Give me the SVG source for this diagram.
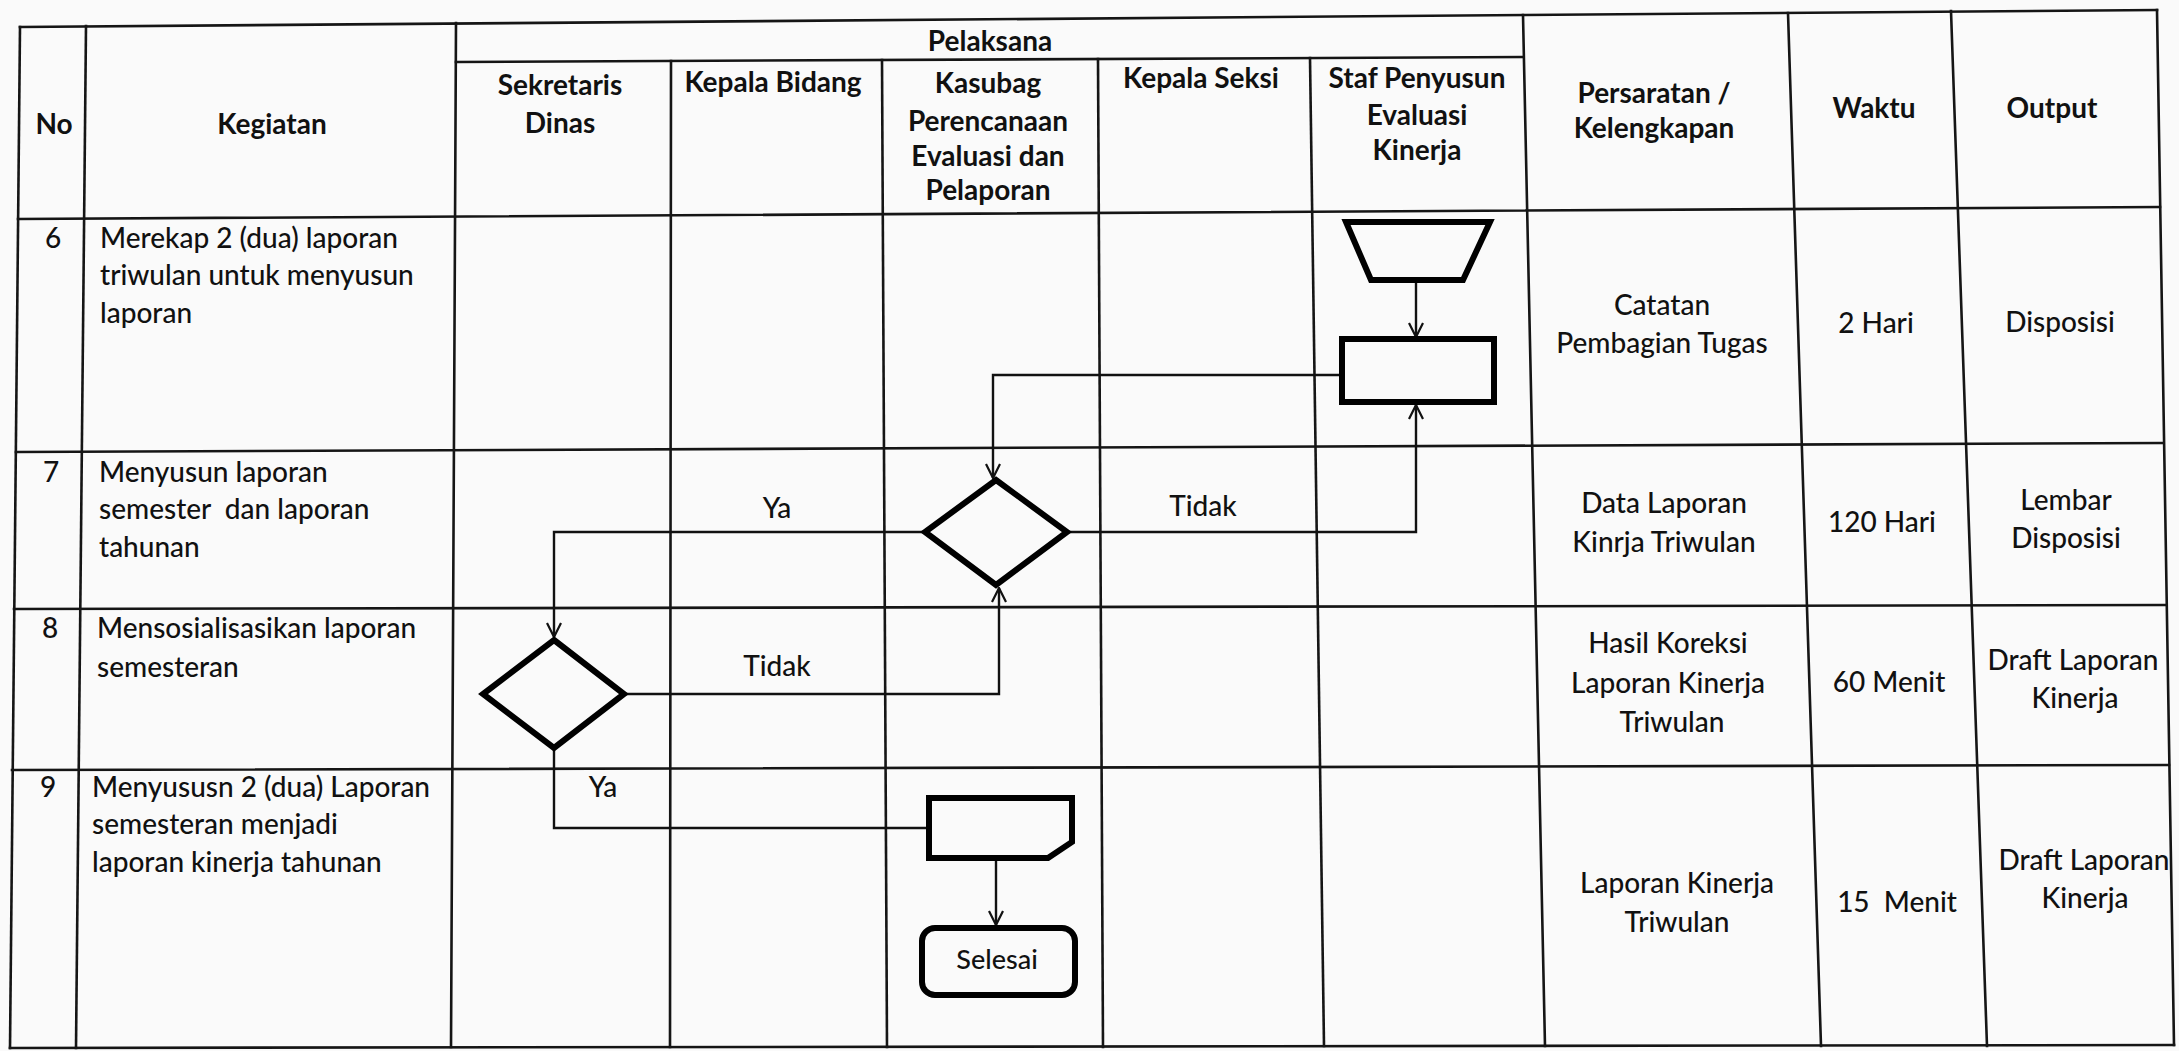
<svg xmlns="http://www.w3.org/2000/svg" width="2179" height="1051" viewBox="0 0 2179 1051">
<style>
  .grid line { stroke:#151515; stroke-width:2.6; stroke-linecap:square; }
  text { font-family:"Lato","Liberation Sans",sans-serif; font-size:28px; font-weight:500; fill:#111; }
  .h { font-weight:bold; text-anchor:middle; }
  .c { text-anchor:middle; }
  .shape { fill:none; stroke:#000; stroke-width:6; stroke-linejoin:miter; }
  .conn { fill:none; stroke:#111; stroke-width:2.4; }
</style>
<defs>
  <marker id="arr" viewBox="0 0 16 16" refX="15" refY="8" markerWidth="16" markerHeight="16" markerUnits="userSpaceOnUse" orient="auto">
    <path d="M1,1 L15,8 L1,15" fill="none" stroke="#111" stroke-width="2.2"/>
  </marker>
</defs>
<rect width="2179" height="1051" fill="#fafafa"/>

<g id="table" class="grid">
  <line x1="20" y1="27" x2="2157" y2="10"/>
  <line x1="456" y1="62" x2="1523" y2="57"/>
  <line x1="18" y1="219" x2="2160" y2="207"/>
  <line x1="16" y1="452" x2="2163" y2="443"/>
  <line x1="14" y1="609" x2="2166" y2="605"/>
  <line x1="12" y1="770" x2="2169" y2="765"/>
  <line x1="10" y1="1048" x2="2174" y2="1045"/>
  <line x1="20" y1="27" x2="10" y2="1048"/>
  <line x1="86" y1="26" x2="76" y2="1048"/>
  <line x1="456" y1="23" x2="451" y2="1047"/>
  <line x1="671" y1="61" x2="670" y2="1047"/>
  <line x1="882" y1="60" x2="887" y2="1047"/>
  <line x1="1098" y1="59" x2="1103" y2="1047"/>
  <line x1="1310" y1="58" x2="1324" y2="1046"/>
  <line x1="1523" y1="15" x2="1545" y2="1046"/>
  <line x1="1788" y1="13" x2="1821" y2="1046"/>
  <line x1="1951" y1="11" x2="1987" y2="1046"/>
  <line x1="2157" y1="10" x2="2174" y2="1045"/>
</g>

<g id="header">
  <text class="h" x="990" y="51">Pelaksana</text>
  <text class="h" x="54" y="134">No</text>
  <text class="h" x="272" y="134">Kegiatan</text>
  <text class="h" x="560" y="95">Sekretaris</text>
  <text class="h" x="560" y="133">Dinas</text>
  <text class="h" x="773" y="92">Kepala Bidang</text>
  <text class="h" x="988" y="93">Kasubag</text>
  <text class="h" x="988" y="131">Perencanaan</text>
  <text class="h" x="988" y="166">Evaluasi dan</text>
  <text class="h" x="988" y="200">Pelaporan</text>
  <text class="h" x="1201" y="88">Kepala Seksi</text>
  <text class="h" x="1417" y="88">Staf Penyusun</text>
  <text class="h" x="1417" y="125">Evaluasi</text>
  <text class="h" x="1417" y="160">Kinerja</text>
  <text class="h" x="1654" y="103">Persaratan /</text>
  <text class="h" x="1654" y="138">Kelengkapan</text>
  <text class="h" x="1874" y="118">Waktu</text>
  <text class="h" x="2052" y="118">Output</text>
</g>

<g id="row6">
  <text class="c" x="53" y="248">6</text>
  <text x="100" y="248">Merekap 2 (dua) laporan</text>
  <text x="100" y="285">triwulan untuk menyusun</text>
  <text x="100" y="323">laporan</text>
  <text class="c" x="1662" y="315">Catatan</text>
  <text class="c" x="1662" y="353">Pembagian Tugas</text>
  <text class="c" x="1876" y="333">2 Hari</text>
  <text class="c" x="2060" y="332">Disposisi</text>
</g>
<g id="row7">
  <text class="c" x="51" y="482">7</text>
  <text x="99" y="482">Menyusun laporan</text>
  <text x="99" y="519" xml:space="preserve">semester  dan laporan</text>
  <text x="99" y="557">tahunan</text>
  <text class="c" x="1664" y="513">Data Laporan</text>
  <text class="c" x="1664" y="552">Kinrja Triwulan</text>
  <text class="c" x="1882" y="532">120 Hari</text>
  <text class="c" x="2066" y="510">Lembar</text>
  <text class="c" x="2066" y="548">Disposisi</text>
</g>
<g id="row8">
  <text class="c" x="50" y="638">8</text>
  <text x="97" y="638">Mensosialisasikan laporan</text>
  <text x="97" y="677">semesteran</text>
  <text class="c" x="1668" y="653">Hasil Koreksi</text>
  <text class="c" x="1668" y="693">Laporan Kinerja</text>
  <text class="c" x="1672" y="732">Triwulan</text>
  <text class="c" x="1889" y="692">60 Menit</text>
  <text class="c" x="2073" y="670">Draft Laporan</text>
  <text class="c" x="2075" y="708">Kinerja</text>
</g>
<g id="row9">
  <text class="c" x="48" y="797">9</text>
  <text x="92" y="797">Menyususn 2 (dua) Laporan</text>
  <text x="92" y="834">semesteran menjadi</text>
  <text x="92" y="872">laporan kinerja tahunan</text>
  <text class="c" x="1677" y="893">Laporan Kinerja</text>
  <text class="c" x="1677" y="932">Triwulan</text>
  <text class="c" x="1897" y="912" xml:space="preserve">15  Menit</text>
  <text class="c" x="2084" y="870">Draft Laporan</text>
  <text class="c" x="2085" y="908">Kinerja</text>
</g>

<g id="connectors" class="conn">
  <path d="M1416,282 V337" marker-end="url(#arr)"/>
  <path d="M1342,375 H993 V478" marker-end="url(#arr)"/>
  <path d="M925,532 H554 V637" marker-end="url(#arr)"/>
  <path d="M1067,532 H1416 V405" marker-end="url(#arr)"/>
  <path d="M624,694 H999 V588" marker-end="url(#arr)"/>
  <path d="M554,748 V828 H929"/>
  <path d="M996,859 V925" marker-end="url(#arr)"/>
</g>
<g id="labels">
  <text class="c" x="777" y="518">Ya</text>
  <text class="c" x="1203" y="516">Tidak</text>
  <text class="c" x="777" y="676">Tidak</text>
  <text class="c" x="603" y="797">Ya</text>
</g>

<g id="node-manual-input">
  <path class="shape" d="M1346,222 H1490 L1463,280 H1371 Z"/>
</g>
<g id="node-process">
  <rect class="shape" x="1342" y="339" width="152" height="63"/>
</g>
<g id="node-decision-7">
  <path class="shape" d="M996,480 L1067,532 L996,585 L925,532 Z"/>
</g>
<g id="node-decision-8">
  <path class="shape" d="M554,640 L624,694 L554,748 L483,694 Z"/>
</g>
<g id="node-document">
  <path class="shape" d="M929,798 H1072 V842 L1048,858 H929 Z"/>
</g>
<g id="node-selesai">
  <rect class="shape" x="922" y="928" width="153" height="67" rx="13"/>
  <text class="c" x="997" y="969" style="font-size:27px">Selesai</text>
</g>
</svg>
